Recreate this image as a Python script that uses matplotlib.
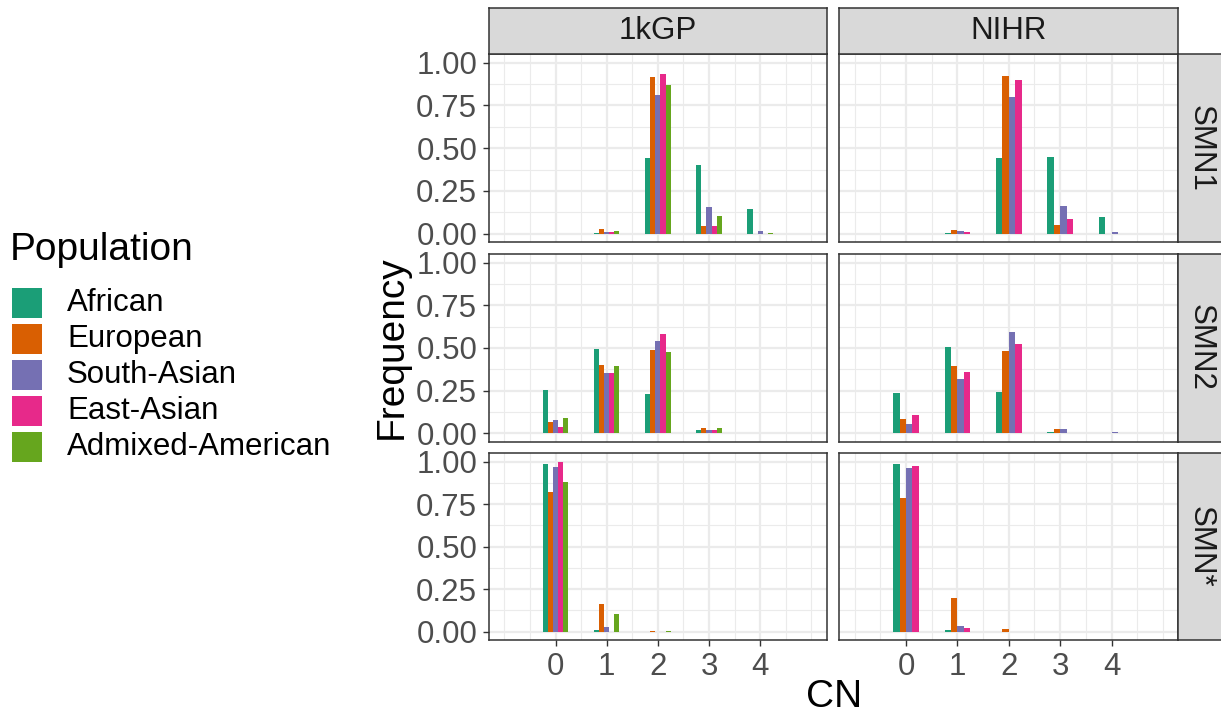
import matplotlib
matplotlib.use("Agg")
import matplotlib.pyplot as plt
from matplotlib.patches import Rectangle
import numpy as np

plt.rcParams['font.family'] = ['Liberation Sans', 'DejaVu Sans']

# ---------------- data ----------------
cn = [0, 1, 2, 3, 4]
populations = ["African", "European", "South-Asian", "East-Asian", "Admixed-American"]
pop_colors = ["#1B9E77", "#D95F02", "#7570B3", "#E7298A", "#66A61E"]
datasets = ["1kGP", "NIHR"]
genes = ["SMN1", "SMN2", "SMN*"]

# values per population (rows) for CN 0..4 (columns)
kgp_smn1 = [
    [0.000, 0.003, 0.445, 0.399, 0.145],
    [0.000, 0.025, 0.918, 0.047, 0.000],
    [0.000, 0.010, 0.810, 0.156, 0.018],
    [0.000, 0.010, 0.934, 0.047, 0.000],
    [0.000, 0.018, 0.866, 0.104, 0.005],
]
nihr_smn1 = [
    [0.000, 0.002, 0.445, 0.449, 0.098],
    [0.000, 0.020, 0.922, 0.053, 0.000],
    [0.000, 0.018, 0.797, 0.164, 0.010],
    [0.000, 0.010, 0.899, 0.084, 0.000],
]
kgp_smn2 = [
    [0.253, 0.491, 0.232, 0.016, 0.000],
    [0.068, 0.400, 0.487, 0.033, 0.003],
    [0.078, 0.353, 0.540, 0.020, 0.001],
    [0.035, 0.351, 0.579, 0.021, 0.003],
    [0.086, 0.396, 0.474, 0.031, 0.002],
]
nihr_smn2 = [
    [0.234, 0.507, 0.242, 0.006, 0.000],
    [0.084, 0.396, 0.481, 0.027, 0.000],
    [0.053, 0.316, 0.593, 0.025, 0.004],
    [0.109, 0.361, 0.524, 0.000, 0.000],
]
kgp_smnstar = [
    [0.986, 0.006, 0.000, 0.000, 0.000],
    [0.820, 0.164, 0.005, 0.000, 0.000],
    [0.969, 0.025, 0.000, 0.000, 0.000],
    [0.996, 0.000, 0.000, 0.000, 0.000],
    [0.883, 0.105, 0.003, 0.000, 0.000],
]
nihr_smnstar = [
    [0.986, 0.010, 0.000, 0.000, 0.000],
    [0.785, 0.199, 0.014, 0.000, 0.000],
    [0.963, 0.035, 0.000, 0.000, 0.000],
    [0.977, 0.020, 0.000, 0.000, 0.000],
]
panel_data = {
    ("SMN1", "1kGP"): kgp_smn1, ("SMN1", "NIHR"): nihr_smn1,
    ("SMN2", "1kGP"): kgp_smn2, ("SMN2", "NIHR"): nihr_smn2,
    ("SMN*", "1kGP"): kgp_smnstar, ("SMN*", "NIHR"): nihr_smnstar,
}
y_ticks = [0, 0.25, 0.5, 0.75, 1.0]
y_ticklabels = ["0.00", "0.25", "0.50", "0.75", "1.00"]

# ---------------- layout ----------------
W, H = 1221, 719
fig = plt.figure(figsize=(W / 100, H / 100), dpi=100)


def rect(x0, y0, x1, y1):
    return [x0 / W, 1 - y1 / H, (x1 - x0) / W, (y1 - y0) / H]


col_x = [(489, 826.7), (839.3, 1178.3)]
row_y = [(54, 242.3), (254, 441.7), (453.3, 640)]
strip_top = (8, 54)
strip_right = (1178.3, 1223)

BORDER = "#333333"
GRID = "#EBEBEB"
TICKLAB = "#4D4D4D"
STRIPBG = "#D9D9D9"
FS_TICK = 22.5
FS_STRIP = 22.5
FS_TITLE = 28

total_width = 0.5

for r, gene in enumerate(genes):
    for c, ds in enumerate(datasets):
        x0, x1 = col_x[c]
        y0, y1 = row_y[r]
        ax = fig.add_axes(rect(x0, y0, x1, y1))
        vals = panel_data[(gene, ds)]
        n = len(vals)
        bw = total_width / n
        for i, v in enumerate(vals):
            offs = (i - (n - 1) / 2) * bw
            ax.bar(np.array(cn) + offs, v, width=bw, color=pop_colors[i],
                   linewidth=0, zorder=3)
        ax.set_xlim(-1.3, 5.3)
        ax.set_ylim(-0.05, 1.05)
        ax.set_xticks(cn)
        ax.set_xticks([-1, -0.5, 0.5, 1.5, 2.5, 3.5, 4.5, 5], minor=True)
        ax.set_yticks(y_ticks)
        ax.set_yticks([0.125, 0.375, 0.625, 0.875], minor=True)
        ax.grid(which="major", color=GRID, linewidth=1.6, zorder=0)
        ax.grid(which="minor", color=GRID, linewidth=0.8, zorder=0)
        ax.set_axisbelow(True)
        for sp in ax.spines.values():
            sp.set_color(BORDER)
            sp.set_linewidth(1.1)
        ax.tick_params(which="minor", length=0)
        ax.tick_params(which="major", direction="out", color=BORDER, width=1.0,
                       length=4.5, labelsize=FS_TICK, labelcolor=TICKLAB, pad=4)
        if c == 0:
            ax.set_yticklabels(y_ticklabels)
        else:
            ax.tick_params(axis="y", length=0, labelleft=False)
        if r == len(genes) - 1:
            ax.set_xticklabels([str(v) for v in cn])
        else:
            ax.tick_params(axis="x", length=0, labelbottom=False)

        # top strips
        if r == 0:
            sax = fig.add_axes(rect(x0, strip_top[0], x1, strip_top[1]))
            sax.set_facecolor(STRIPBG)
            sax.set_xticks([]); sax.set_yticks([])
            for sp in sax.spines.values():
                sp.set_color(BORDER); sp.set_linewidth(1.1)
            sax.text(0.5, 0.5, ds, ha="center", va="center", fontsize=FS_STRIP,
                     color="#1A1A1A", transform=sax.transAxes)
        # right strips
        if c == len(datasets) - 1:
            sax = fig.add_axes(rect(strip_right[0], y0, strip_right[1], y1))
            sax.set_facecolor(STRIPBG)
            sax.set_xticks([]); sax.set_yticks([])
            for sp in sax.spines.values():
                sp.set_color(BORDER); sp.set_linewidth(1.1)
            sax.text(0.5, 0.5, gene, ha="center", va="center", fontsize=FS_STRIP,
                     color="#1A1A1A", rotation=-90, transform=sax.transAxes)

# axis titles
fig.text((col_x[0][0] + col_x[1][1]) / 2 / W, 1 - 697 / H, "CN",
         ha="center", va="center", fontsize=FS_TITLE, color="black")
fig.text(392 / W, 1 - ((row_y[0][0] + row_y[2][1]) / 2) / H, "Frequency",
         ha="center", va="center", rotation=90, fontsize=FS_TITLE, color="black")

# legend
lax = fig.add_axes([0, 0, 1, 1])
lax.set_xlim(0, W)
lax.set_ylim(H, 0)
lax.axis("off")
lax.text(10, 250, "Population", ha="left", va="center", fontsize=FS_TITLE, color="black")
key_w, key_step, key_top = 30, 36, 288
for i, (p, col) in enumerate(zip(populations, pop_colors)):
    ky = key_top + i * key_step
    lax.add_patch(Rectangle((12, ky), key_w, key_w, facecolor=col, edgecolor="none"))
    lax.text(67, ky + key_w / 2, p, ha="left", va="center", fontsize=FS_TICK, color="black")

fig.savefig("out.png", dpi=100)
